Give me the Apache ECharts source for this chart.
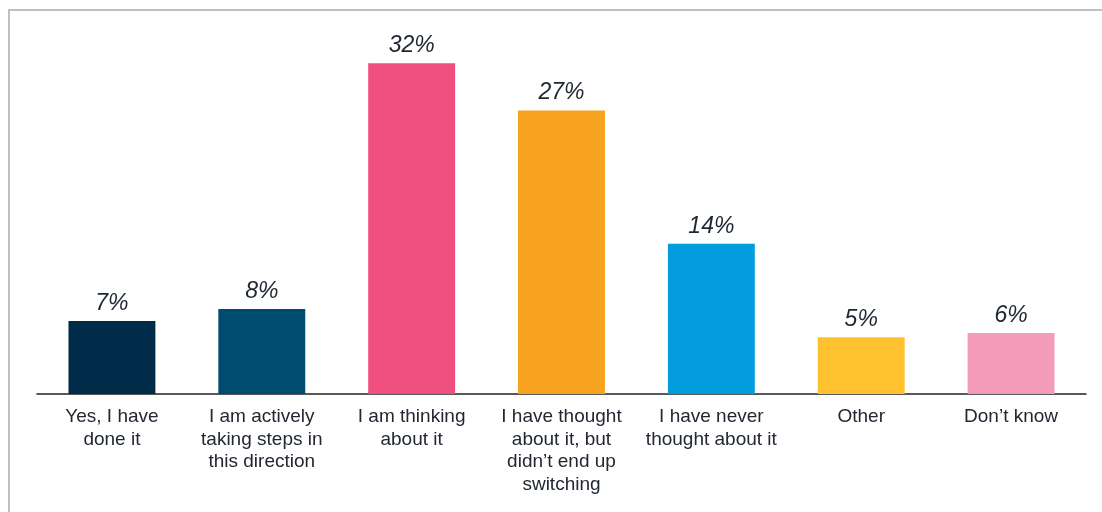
<!DOCTYPE html>
<html>
<head>
<meta charset="utf-8">
<script src="https://cdn.jsdelivr.net/npm/echarts@6/dist/echarts.min.js"></script>
<style>
  html, body { margin: 0; padding: 0; background: #fff; }
  #frame {
    position: absolute; left: 8px; top: 9px; width: 1094px; height: 503px;
    border-left: 2px solid #c0c0c0; border-top: 2px solid #c0c0c0;
  }
  #chart { position: absolute; left: 0; top: 0; width: 1102px; height: 512px; }
</style>
</head>
<body>
<div id="frame"></div>
<div id="chart"></div>
<script>
const categories = [
  'Yes, I have\ndone it',
  'I am actively\ntaking steps in\nthis direction',
  'I am thinking\nabout it',
  'I have thought\nabout it, but\ndidn\u2019t end up\nswitching',
  'I have never\nthought about it',
  'Other',
  'Don\u2019t know'
]
const values = [6.95, 8.1, 31.5, 27.0, 14.3, 5.4, 5.8]
const valueLabels = ['7%', '8%', '32%', '27%', '14%', '5%', '6%']
const colors = ['#002b49', '#004b70', '#ef4f7f', '#f8a31f', '#039ddd', '#ffc22e', '#f59bba']

const chart = echarts.init(document.getElementById('chart'))

chart.setOption({
  animation: false,
  grid: {
    left: 37,
    right: 16,
    top: 26.5,
    bottom: 118,
    containLabel: false,
  },
  xAxis: {
    type: 'category',
    data: categories,
    axisLine: {
      show: true,
      lineStyle: { color: '#222', width: 1.5 },
    },
    axisTick: { show: false },
    axisLabel: {
      interval: 0,
      margin: 12,
      color: '#222831',
      fontFamily: 'Liberation Sans, Arial, sans-serif',
      fontSize: 19,
      lineHeight: 22.5,
      align: 'center',
    },
  },
  yAxis: {
    type: 'value',
    min: 0,
    max: 35,
    show: false,
    splitLine: { show: false },
  },
  series: [
    {
      type: 'bar',
      barWidth: '58%',
      data: values.map((v, i) => ({
        value: v,
        itemStyle: { color: colors[i] },
      })),
      label: {
        show: true,
        position: 'top',
        distance: 6,
        formatter: (p) => valueLabels[p.dataIndex],
        color: '#1e2630',
        fontFamily: 'Liberation Sans, Arial, sans-serif',
        fontStyle: 'italic',
        fontSize: 23,
      },
    },
  ],
})
</script>
</body>
</html>
